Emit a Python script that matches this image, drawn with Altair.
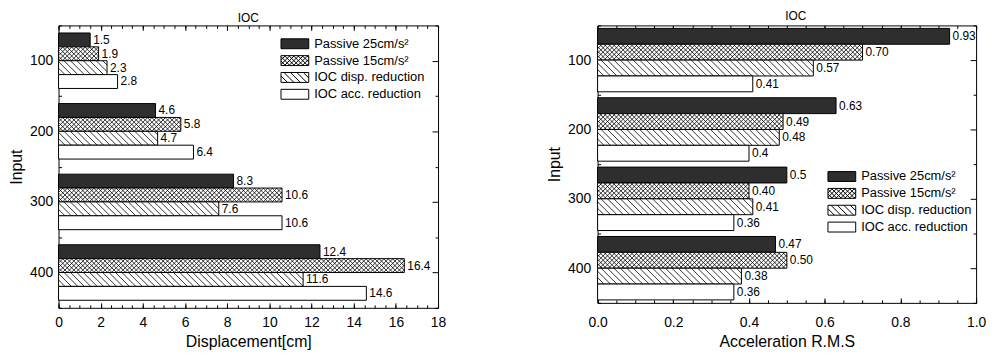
import altair as alt
import pandas as pd

# ---------------- data ----------------
inputs = [100, 200, 300, 400]
series_names = ["Passive 25cm/s²", "Passive 15cm/s²", "IOC disp. reduction", "IOC acc. reduction"]

disp_passive25 = [1.5, 4.6, 8.3, 12.4]
disp_passive15 = [1.9, 5.8, 10.6, 16.4]
disp_ioc_disp = [2.3, 4.7, 7.6, 11.6]
disp_ioc_acc = [2.8, 6.4, 10.6, 14.6]
disp_labels_passive25 = ["1.5", "4.6", "8.3", "12.4"]
disp_labels_passive15 = ["1.9", "5.8", "10.6", "16.4"]
disp_labels_ioc_disp = ["2.3", "4.7", "7.6", "11.6"]
disp_labels_ioc_acc = ["2.8", "6.4", "10.6", "14.6"]

acc_passive25 = [0.93, 0.63, 0.50, 0.47]
acc_passive15 = [0.70, 0.49, 0.40, 0.50]
acc_ioc_disp = [0.57, 0.48, 0.41, 0.38]
acc_ioc_acc = [0.41, 0.40, 0.36, 0.36]
acc_labels_passive25 = ["0.93", "0.63", "0.5", "0.47"]
acc_labels_passive15 = ["0.70", "0.49", "0.40", "0.50"]
acc_labels_ioc_disp = ["0.57", "0.48", "0.41", "0.38"]
acc_labels_ioc_acc = ["0.41", "0.4", "0.36", "0.36"]

disp_ticks = [0, 2, 4, 6, 8, 10, 12, 14, 16, 18]
acc_ticks = [0.0, 0.2, 0.4, 0.6, 0.8, 1.0]

# ---------------- style ----------------
FONT = "Liberation Sans"
fill_colors = ["#2e2e2e", "#ffffff", "#ffffff", "#ffffff"]
HATCH_DISP_PX = 6.5
HATCH_CROSS_PX = 4.5
SYMBOL_SIZE = 100  # legend symbol "size"; custom path is drawn wider than that


def make_df(value_lists, label_lists):
    rows = []
    for k, (vals, labs) in enumerate(zip(value_lists, label_lists)):
        for inp, v, lab in zip(inputs, vals, labs):
            rows.append({"Input": inp, "series": series_names[k], "idx": k, "value": v, "label": lab})
    return pd.DataFrame(rows)


def symbol_path(kinds, step_px, w=28.0, h=10.0):
    r = SYMBOL_SIZE ** 0.5 / 2.0
    hx = w / 2.0 / r
    a = h / 2.0 / r
    parts = [f"M {-hx:.4f} {-a:.4f} L {hx:.4f} {-a:.4f} L {hx:.4f} {a:.4f} L {-hx:.4f} {a:.4f} Z"]
    D = 2 * a
    st = step_px / r
    for kind in kinds:
        x = -hx - D
        while x < hx:
            if kind == "\\":
                t0 = max(0.0, (-hx - x) / D)
                t1 = min(1.0, (hx - x) / D)
                if t1 > t0:
                    x1, x2 = x + t0 * D, x + t1 * D
                    y1, y2 = -a + t0 * 2 * a, -a + t1 * 2 * a
                    parts.append(f" M {x1:.4f} {y1:.4f} L {x2:.4f} {y2:.4f}")
            else:
                t0 = max(0.0, (x + D - hx) / D)
                t1 = min(1.0, (x + D + hx) / D)
                if t1 > t0:
                    x1, x2 = x + D - t0 * D, x + D - t1 * D
                    y1, y2 = -a + t0 * 2 * a, -a + t1 * 2 * a
                    parts.append(f" M {x1:.4f} {y1:.4f} L {x2:.4f} {y2:.4f}")
            x += st
    return "".join(parts)


legend_paths = [
    symbol_path([], 1),
    symbol_path(["\\", "/"], HATCH_CROSS_PX),
    symbol_path(["\\"], HATCH_DISP_PX),
    symbol_path([], 1),
]


def tick_axis(orient, values, size):
    return alt.Axis(orient=orient, values=values, labels=False, domain=False, ticks=True,
                    tickSize=size, offset=-size, title=None, grid=False,
                    tickColor="black", tickWidth=1, minExtent=0)


def build_panel(df, xmax, x_major, x_minor, xfmt, xtitle, width, height, bar_px,
                legend_x, legend_y, x_label_pad, y_label_pad, title_dx, title_offset):
    px_x = width / xmax
    px_y = height / 400.0
    H = bar_px / px_y
    D = bar_px / px_x
    s_disp = HATCH_DISP_PX / px_x
    s_cross = HATCH_CROSS_PX / px_x
    y_minor = [50, 150, 250, 350, 450]

    xs = alt.Scale(domain=[0, xmax], nice=False, zero=True)
    ys = alt.Scale(domain=[50, 450], reverse=True, nice=False, zero=False)
    fill_scale = alt.Scale(domain=series_names, range=fill_colors)
    shape_scale = alt.Scale(domain=series_names, range=legend_paths)
    stroke_scale = alt.Scale(domain=series_names, range=["black"] * len(series_names))

    leg = alt.Legend(orient="none", legendX=legend_x, legendY=legend_y, title=None,
                     symbolSize=SYMBOL_SIZE, symbolStrokeColor="black", symbolStrokeWidth=1,
                     symbolOpacity=1, labelFont=FONT, labelFontSize=13, labelColor="black",
                     labelOffset=13, rowPadding=2)

    base = alt.Chart(df).transform_calculate(
        yc=f"datum.Input + (datum.idx - 1.5) * {H}"
    ).transform_calculate(
        yt=f"datum.yc - {H / 2}", yb=f"datum.yc + {H / 2}"
    )

    bars = base.mark_rect(stroke="black", strokeWidth=1).encode(
        x=alt.X("value:Q", scale=xs,
                axis=alt.Axis(orient="bottom", values=x_major, format=xfmt, ticks=False, tickSize=0,
                              domain=False, labelPadding=x_label_pad, labelFlush=False,
                              title=xtitle, titlePadding=4)),
        x2=alt.datum(0),
        y=alt.Y("yt:Q", scale=ys,
                axis=alt.Axis(orient="left", values=inputs, ticks=False, tickSize=0, domain=False,
                              labelPadding=y_label_pad, title="Input", titlePadding=5)),
        y2="yb:Q",
        fill=alt.Fill("series:N", scale=fill_scale, legend=leg),
    )

    hatch_a = base.transform_filter("datum.idx == 1 || datum.idx == 2").transform_calculate(
        hstep=f"datum.idx == 2 ? {s_disp} : {s_cross}"
    ).transform_calculate(
        ss=f"sequence({-D}, datum.value, datum.hstep)"
    ).transform_flatten(["ss"]).transform_calculate(
        t0=f"max(0, -datum.ss / {D})",
        t1=f"min(1, (datum.value - datum.ss) / {D})",
    ).transform_filter("datum.t1 > datum.t0").transform_calculate(
        hx1=f"datum.ss + datum.t0 * {D}",
        hx2=f"datum.ss + datum.t1 * {D}",
        hy1=f"datum.yt + datum.t0 * {H}",
        hy2=f"datum.yt + datum.t1 * {H}",
    ).mark_rule(color="black", strokeWidth=0.8).encode(
        x=alt.X("hx1:Q", scale=xs, axis=tick_axis("bottom", x_minor, 3)),
        x2="hx2:Q",
        y=alt.Y("hy1:Q", scale=ys, axis=tick_axis("left", y_minor, 3)),
        y2="hy2:Q",
    )

    hatch_b = base.transform_filter("datum.idx == 1").transform_calculate(
        ss=f"sequence({-D}, datum.value, {s_cross})"
    ).transform_flatten(["ss"]).transform_calculate(
        t0=f"max(0, (datum.ss + {D} - datum.value) / {D})",
        t1=f"min(1, (datum.ss + {D}) / {D})",
    ).transform_filter("datum.t1 > datum.t0").transform_calculate(
        hx1=f"datum.ss + {D} - datum.t0 * {D}",
        hx2=f"datum.ss + {D} - datum.t1 * {D}",
        hy1=f"datum.yt + datum.t0 * {H}",
        hy2=f"datum.yt + datum.t1 * {H}",
    ).mark_rule(color="black", strokeWidth=0.8).encode(
        x=alt.X("hx1:Q", scale=xs, axis=tick_axis("top", x_major, 5)),
        x2="hx2:Q",
        y=alt.Y("hy1:Q", scale=ys, axis=tick_axis("right", inputs, 6)),
        y2="hy2:Q",
    )

    labels = base.mark_text(align="left", baseline="middle", dx=3, fontSize=12, font=FONT,
                            color="black").encode(
        x=alt.X("value:Q", scale=xs, axis=tick_axis("bottom", x_major, 5)),
        y=alt.Y("yc:Q", scale=ys, axis=tick_axis("left", inputs, 5)),
        text="label:N",
    )

    points = base.mark_point(filled=True, opacity=0, strokeWidth=1).encode(
        x=alt.X("value:Q", scale=xs, axis=tick_axis("top", x_minor, 3)),
        y=alt.Y("yc:Q", scale=ys, axis=tick_axis("right", y_minor, 3)),
        fill=alt.Fill("series:N", scale=fill_scale, legend=leg),
        shape=alt.Shape("series:N", scale=shape_scale, legend=leg),
        stroke=alt.Stroke("series:N", scale=stroke_scale, legend=leg),
    )

    return alt.layer(bars, hatch_a, hatch_b, labels, points).properties(
        width=width, height=height,
        title=alt.TitleParams("IOC", frame="group", dx=title_dx, offset=title_offset),
    ).resolve_axis(x="independent", y="independent")


disp_df = make_df([disp_passive25, disp_passive15, disp_ioc_disp, disp_ioc_acc],
                  [disp_labels_passive25, disp_labels_passive15, disp_labels_ioc_disp, disp_labels_ioc_acc])
acc_df = make_df([acc_passive25, acc_passive15, acc_ioc_disp, acc_ioc_acc],
                 [acc_labels_passive25, acc_labels_passive15, acc_labels_ioc_disp, acc_labels_ioc_acc])

disp_minor = [round(i * 0.5, 2) for i in range(0, 37)]
acc_minor = [round(i * 0.05, 2) for i in range(0, 21)]

left = build_panel(disp_df, 18, disp_ticks, disp_minor, "d", "Displacement[cm]",
                   383, 285, 14, 232, 12, 8, 6, 0, 0)
right = build_panel(acc_df, 1.0, acc_ticks, acc_minor, ".1f", "Acceleration R.M.S",
                    382, 280, 16, 240, 146, 13, 7, 9, 2)

chart = alt.hconcat(left, right, spacing=100).resolve_scale(
    fill="independent", shape="independent", stroke="independent"
).resolve_legend(
    fill="independent", shape="independent", stroke="independent"
).properties(padding=0).configure_view(
    stroke="black", strokeWidth=1
).configure_axis(
    labelFont=FONT, titleFont=FONT, labelColor="black", titleColor="black",
    labelFontSize=14, titleFontSize=16, titleFontWeight="normal", grid=False
).configure_title(
    font=FONT, fontSize=12, fontWeight="normal", color="black"
)

chart.save("out.html", embed_options={"renderer": "svg", "actions": False})
